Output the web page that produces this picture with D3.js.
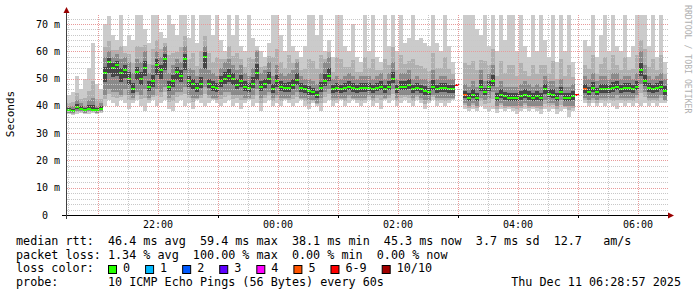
<!DOCTYPE html>
<html>
<head>
<meta charset="utf-8">
<script src="https://cdn.jsdelivr.net/npm/d3@7"></script>
<style>
  html, body { margin: 0; padding: 0; background: #fff; }
  svg text { font-family: 'DejaVu Sans Mono', monospace; white-space: pre; }
</style>
</head>
<body>
<div id="chart"></div>
<script>
// 150 samples, one every 4 minutes, from 20:29 to 06:29 (ms). null = no data
const median = [
  38.5, 38, 39.5, 39, 38.5, 39, 38.5, 38.5, 39, 52,
  56, 54, 55, 52, 53, 50, 46, 52.5, 50, 54,
  47, 49, 55, 53, 57, 47, 49, 52.5, 51, 57,
  49, 48, 46.5, 48, 58, 48, 47, 46.5, 49, 50,
  51, 50, 47.5, 49, 47, 46.5, 48, 52, 47, 48,
  50, 46, 49, 47, 46.5, 46.5, 47.5, 49.5, 46.5, 46,
  45.5, 45, 44, 46.5, 49, 51, 46, 46.5, 46, 46.5,
  47, 46.5, 46, 46.5, 46.5, 46.5, 46, 46.5, 47, 46,
  47, 50, 46, 47, 47, 47.5, 46, 46.5, 46, 45.5,
  45, 47, 46, 46.5, 46.5, 46, 46, 47.5, null, 44,
  43, 44, 43, 47, 45, 47, 49, 43, 44, 43.5,
  43, 43, 43, 43.5, 44, 43.5, 43, 43.5, 43, 46,
  44.5, 44, 43, 45, 43, 43, 43.5, 44, null, 46,
  45, 46.5, 45, 46, 46, 46, 46.5, 47, 46, 46.5,
  46.5, 46, 47, 53, 49, 46.5, 46, 46.5, 47, 45.5
];
// fastest and slowest ping of each sample
const pingMin = [
  37, 36.5, 37, 37.5, 37, 37, 37.5, 37, 37.5, 40,
  42, 41, 40, 42, 41, 39, 41, 42, 40, 38,
  41, 42, 40, 41, 42, 39, 38, 41, 42, 40,
  41, 39, 42, 41, 40, 41, 42, 41, 40, 41,
  42, 40, 41, 39, 41, 42, 40, 41, 38, 41,
  42, 40, 41, 40, 42, 41, 40, 41, 42, 40,
  39, 41, 40, 38, 41, 42, 40, 41, 42, 40,
  41, 42, 41, 40, 41, 42, 40, 41, 39, 42,
  41, 42, 40, 41, 42, 41, 40, 42, 41, 39,
  41, 42, 40, 41, 40, 41, 42, 41, null, 39,
  38, 39, 38, 40, 39, 38, 39, 37.5, 39, 38,
  39, 38, 37, 38, 39, 38, 39, 38, 37, 39,
  38, 39, 37, 38, 39, 36, 38, 39, null, 41,
  40, 41, 40, 41, 40, 41, 40, 39, 41, 40,
  41, 40, 41, 40, 41, 40, 41, 40, 41, 41
];
const pingMax = [
  44, 45, 51, 46, 50, 54, 63, 48, 46, 70,
  73, 66, 64, 74, 62, 66, 64, 74, 74, 68,
  63, 74, 74, 67, 65, 74, 70, 66, 74, 74,
  65, 74, 63, 74, 74, 74, 66, 74, 64, 60,
  74, 66, 74, 62, 60, 74, 65, 62, 60, 58,
  63, 74, 74, 66, 60, 74, 62, 60, 58, 62,
  74, 74, 66, 74, 60, 64, 58, 74, 74, 62,
  60, 70, 58, 56, 74, 60, 74, 58, 56, 74,
  62, 74, 60, 74, 63, 65, 74, 64, 65, 63,
  62, 74, 63, 60, 74, 62, 56, 58, null, 74,
  74, 74, 68, 66, 74, 62, 74, 60, 74, 64,
  74, 74, 60, 74, 62, 58, 74, 60, 74, 64,
  58, 74, 56, 74, 60, 74, 56, 58, null, 64,
  62, 74, 58, 66, 74, 60, 74, 62, 60, 74,
  58, 62, 74, 74, 74, 62, 74, 58, 74, 56
];
// 3rd and 8th of the ten sorted pings
const pingLow = [
  37.5, 37.5, 38, 38, 37.5, 38, 38, 37.5, 38, 44,
  46, 45, 45, 44, 46, 44, 43, 45, 44, 46,
  43, 44, 46, 45, 47, 43, 44, 45, 45, 47,
  44, 43, 43, 44, 47, 44, 43, 43, 44, 45,
  45, 44, 44, 44, 43, 43, 44, 46, 43, 44,
  45, 43, 44, 43, 43, 43, 44, 45, 43, 43,
  42, 42, 41, 43, 45, 46, 43, 43, 43, 43,
  44, 43, 43, 43, 43, 44, 43, 44, 44, 43,
  44, 46, 43, 44, 44, 44, 43, 44, 43, 42,
  42, 44, 43, 43, 43, 43, 43, 44, null, 41,
  40, 41, 40, 43, 42, 43, 45, 40, 41, 40,
  40, 40, 40, 40, 41, 40, 40, 40, 40, 42,
  41, 41, 40, 42, 40, 40, 40, 41, null, 43,
  42, 43, 42, 43, 43, 43, 43, 44, 43, 43,
  43, 43, 44, 48, 45, 43, 43, 43, 44, 42
];
const pingHigh = [
  40, 40, 42, 41, 40, 42, 43, 40, 41, 58,
  60, 58, 59, 57, 58, 56, 52, 57, 56, 60,
  52, 55, 60, 58, 62, 52, 55, 57, 56, 62,
  54, 53, 51, 54, 62, 53, 52, 51, 54, 56,
  57, 55, 53, 55, 52, 51, 54, 60, 52, 53,
  56, 51, 55, 52, 51, 52, 53, 56, 51, 50,
  50, 49, 48, 52, 56, 58, 50, 51, 50, 51,
  52, 51, 50, 51, 51, 51, 50, 51, 52, 50,
  52, 56, 50, 52, 52, 53, 50, 51, 50, 50,
  49, 53, 50, 51, 51, 50, 50, 52, null, 48,
  47, 49, 47, 53, 49, 52, 55, 47, 49, 47,
  47, 47, 47, 48, 49, 48, 47, 48, 47, 51,
  49, 49, 47, 50, 47, 47, 48, 49, null, 51,
  50, 52, 49, 51, 51, 50, 52, 52, 50, 51,
  51, 50, 52, 60, 55, 51, 50, 51, 52, 50
];
// samples with lost pings: [sample index, pings lost]
const lossSamples = [[97, 6], [99, 5], [127, 6], [129, 5]];

const yTicks = [0, 10, 20, 30, 40, 50, 60, 70];
const lossLegend = [
  ['0', '#26ff00'], ['1', '#00b8ff'], ['2', '#0059ff'], ['3', '#5e00ff'],
  ['4', '#ff00ff'], ['5', '#ff5500'], ['6-9', '#ff0000'], ['10/10', '#a10000']
];
const legendRows = [
  'median rtt:  46.4 ms avg  59.4 ms max  38.1 ms min  45.3 ms now  3.7 ms sd  12.7   am/s',
  'packet loss: 1.34 % avg  100.00 % max  0.00 % min  0.00 % now'
];
const probeRow = 'probe:       10 ICMP Echo Pings (56 Bytes) every 60s';
const stamp = 'Thu Dec 11 06:28:57 2025';

const W = 697;
const H = 297;
const pLeft = 67;
const pRight = 667;
const pTop = 15;
const pBottom = 215;

const t0 = Date.UTC(2025, 11, 10, 20, 29);
const step = 4 * 60 * 1000;
const t1 = t0 + median.length * step;

const svg = d3.select('#chart')
  .append('svg')
  .attr('width', W)
  .attr('height', H)
  .attr('viewBox', [0, 0, W, H]);

svg.append('rect').attr('width', W).attr('height', H).attr('fill', '#fff');

const x = d3.scaleUtc().domain([t0, t1]).range([pLeft, pRight]);
const y = d3.scaleLinear().domain([0, 73.3]).range([pBottom, pTop]);

const lossColor = (n) => {
  if (n >= 10) return lossLegend[7][1];
  if (n >= 6) return lossLegend[6][1];
  return lossLegend[n][1];
};
const lossMap = new Map(lossSamples);

const rows = median.map((m, i) => ({
  t: t0 + i * step,
  med: m,
  lo: pingMin[i],
  hi: pingMax[i],
  q1: pingLow[i],
  q3: pingHigh[i],
  loss: lossMap.get(i) || 0,
}));
// extend the last step to the right edge
rows.push({ ...rows[rows.length - 1], t: t1 });

svg.append('clipPath').attr('id', 'plot')
  .append('rect')
  .attr('x', pLeft).attr('y', pTop)
  .attr('width', pRight - pLeft).attr('height', pBottom - pTop);

const plot = svg.append('g').attr('clip-path', 'url(#plot)');

// smoke, lightest (all pings) to darkest (around the median)
const mix = (a, b, k) => a + (b - a) * k;
const layers = [
  { lo: (d) => d.lo, hi: (d) => d.hi, color: '#cbcbcb' },
  { lo: (d) => mix(d.lo, d.q1, 0.6), hi: (d) => mix(d.hi, d.q3, 0.7), color: '#b0b0b0' },
  { lo: (d) => d.q1, hi: (d) => d.q3, color: '#8a8a8a' },
  { lo: (d) => mix(d.q1, d.med, 0.6), hi: (d) => mix(d.q3, d.med, 0.6), color: '#454545' },
];
layers.forEach((l) => {
  const area = d3.area()
    .defined((d) => d.med != null)
    .curve(d3.curveStepAfter)
    .x((d) => x(d.t))
    .y0((d) => y(l.lo(d)))
    .y1((d) => y(l.hi(d)));
  plot.append('path')
    .datum(rows)
    .attr('d', area)
    .attr('fill', l.color)
    .attr('shape-rendering', 'crispEdges');
});

// grid, drawn over the smoke like rrdtool does
const grid = svg.append('g').attr('stroke-dasharray', '1,1').attr('stroke-width', 1);
const px = (v) => Math.round(v) + 0.5;

d3.range(2, 74, 2).filter((v) => v % 10 !== 0).forEach((v) => {
  grid.append('line')
    .attr('x1', pLeft).attr('x2', pRight + 2)
    .attr('y1', px(y(v))).attr('y2', px(y(v)))
    .attr('stroke', '#c8c8c8');
});
x.ticks(d3.utcMinute.every(30)).filter((d) => d.getUTCMinutes() !== 0).forEach((d) => {
  grid.append('line')
    .attr('x1', px(x(d))).attr('x2', px(x(d)))
    .attr('y1', pTop).attr('y2', pBottom)
    .attr('stroke', '#c8c8c8');
});
yTicks.filter((v) => v > 0).forEach((v) => {
  grid.append('line')
    .attr('x1', pLeft).attr('x2', pRight + 2)
    .attr('y1', px(y(v))).attr('y2', px(y(v)))
    .attr('stroke', '#e89a9a');
});
x.ticks(d3.utcHour.every(1)).forEach((d) => {
  grid.append('line')
    .attr('x1', px(x(d))).attr('x2', px(x(d)))
    .attr('y1', pTop).attr('y2', pBottom)
    .attr('stroke', '#e89a9a');
});

// median, one short bar per sample coloured by loss
plot.append('g')
  .selectAll('line')
  .data(rows.slice(0, -1).filter((d) => d.med != null))
  .join('line')
  .attr('x1', (d) => x(d.t))
  .attr('x2', (d) => x(d.t + step))
  .attr('y1', (d) => Math.round(y(d.med)))
  .attr('y2', (d) => Math.round(y(d.med)))
  .attr('stroke', (d) => lossColor(d.loss))
  .attr('stroke-width', 2);

// axes
svg.append('line')
  .attr('x1', 62).attr('x2', 670)
  .attr('y1', pBottom + 0.5).attr('y2', pBottom + 0.5)
  .attr('stroke', '#000');
svg.append('line')
  .attr('x1', pLeft - 0.5).attr('x2', pLeft - 0.5)
  .attr('y1', pBottom + 4).attr('y2', 11)
  .attr('stroke', '#404040');
svg.append('path')
  .attr('d', `M668,${pBottom - 2.5}L674,${pBottom + 0.5}L668,${pBottom + 3.5}Z`)
  .attr('fill', '#990000');
svg.append('path')
  .attr('d', `M${pLeft - 3.5},13L${pLeft - 0.5},7L${pLeft + 2.5},13Z`)
  .attr('fill', '#990000');

x.ticks(d3.utcHour.every(2)).forEach((d) => {
  // small ticks under the axis on odd hours
  const odd = new Date(+d + 3600000);
  if (+odd < t1) {
    svg.append('line')
      .attr('x1', px(x(odd))).attr('x2', px(x(odd)))
      .attr('y1', pBottom).attr('y2', pBottom + 3)
      .attr('stroke', '#000');
  }
  svg.append('text')
    .attr('x', x(d))
    .attr('y', 228)
    .attr('text-anchor', 'middle')
    .attr('font-size', '10px')
    .attr('fill', '#000')
    .text(d3.utcFormat('%H:%M')(d));
});

yTicks.forEach((v) => {
  svg.append('text')
    .attr('x', 48)
    .attr('y', y(v) + 3.5)
    .attr('text-anchor', 'end')
    .attr('font-size', '10px')
    .text(String(v));
  if (v > 0) {
    svg.append('text')
      .attr('x', 54)
      .attr('y', y(v) + 3.5)
      .attr('font-size', '10px')
      .text('m');
  }
});

svg.append('text')
  .attr('transform', 'translate(14,114) rotate(-90)')
  .attr('text-anchor', 'middle')
  .attr('font-size', '11px')
  .text('Seconds');

svg.append('text')
  .attr('transform', 'translate(685,5) rotate(90)')
  .attr('font-size', '8.2px')
  .attr('fill', '#b0b0b0')
  .text('RRDTOOL / TOBI OETIKER');

// legend
const fs = '11.75px';
legendRows.forEach((s, i) => {
  svg.append('text')
    .attr('x', 16).attr('y', 245 + i * 13.5)
    .attr('font-size', fs)
    .text(s);
});
svg.append('text')
  .attr('x', 16).attr('y', 272)
  .attr('font-size', fs)
  .text('loss color:');

let sx = 108;
lossLegend.forEach(([label, color]) => {
  svg.append('rect')
    .attr('x', sx + 0.5).attr('y', 265.5)
    .attr('width', 8).attr('height', 8)
    .attr('fill', color)
    .attr('stroke', '#000')
    .attr('stroke-width', 1);
  const t = svg.append('text')
    .attr('x', sx + 15).attr('y', 272)
    .attr('font-size', fs)
    .text(label);
  sx += 15 + t.node().getComputedTextLength() + 15;
});

svg.append('text')
  .attr('x', 16).attr('y', 285.5)
  .attr('font-size', fs)
  .text(probeRow);
svg.append('text')
  .attr('x', 681).attr('y', 285.5)
  .attr('text-anchor', 'end')
  .attr('font-size', fs)
  .text(stamp);
</script>
</body>
</html>
